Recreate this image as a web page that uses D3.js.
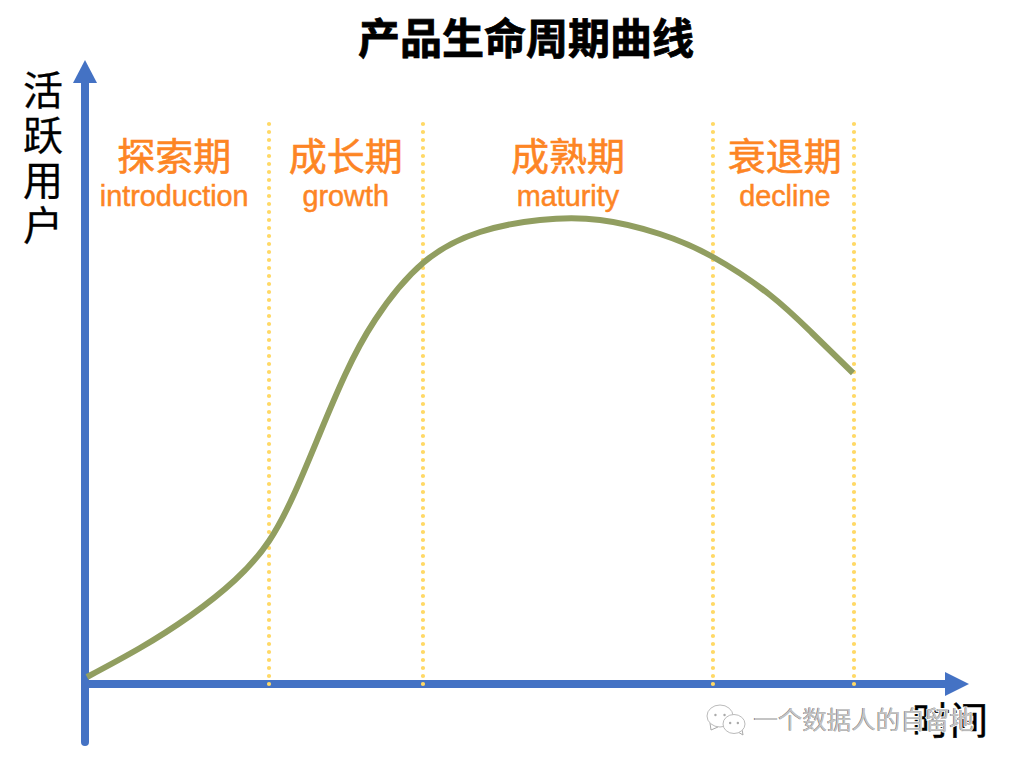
<!DOCTYPE html>
<html><head><meta charset="utf-8">
<script src="https://cdnjs.cloudflare.com/ajax/libs/d3/7.8.5/d3.min.js"></script>
<style>html,body{margin:0;padding:0;background:#fff}svg{display:block}
text{font-family:"Noto Sans CJK SC",sans-serif}</style></head><body>
<svg id="c" width="1010" height="764"></svg>
<script>
const title = "产品生命周期曲线";
const yLabel = ["活","跃","用","户"];
const xLabel = "时间";
const watermark = "一个数据人的自留地";
const phaseCn = ["探索期","成长期","成熟期","衰退期"];
const phaseEn = ["introduction","growth","maturity","decline"];
const phaseCenters = [11.6, 33.9, 62.8, 91];
const boundaries = [23.93, 43.95, 81.66, 100];
const curveX = [0.26,7.15,13.65,19.51,23.93,27.31,30.56,33.81,37.71,43.95,51.37,59.17,66.97,74.77,81.66,89.08,94.54,99.87];
const curveY = [1.4,7.2,13.6,20.8,28.6,38.4,50.2,61.8,72.8,84.2,90.4,92.8,92.8,90,85.4,77.8,70.2,62.2];

const blue="#4472c4", olive="#919e60", orange="#fd8524", gold="#ffd966";
const x=d3.scaleLinear().domain([0,100]).range([85,854]);
const y=d3.scaleLinear().domain([0,100]).range([684,184]);
const svg=d3.select("#c");

// vertical phase boundaries
svg.selectAll("line.b").data(boundaries).join("line").attr("class","b")
  .attr("x1",d=>x(d)).attr("x2",d=>x(d)).attr("y1",124).attr("y2",y(0))
  .attr("stroke",gold).attr("stroke-width",4.2).attr("stroke-linecap","round").attr("stroke-dasharray","0 8");

// axes
svg.append("line").attr("x1",x(0)).attr("x2",x(0)).attr("y1",742).attr("y2",80)
  .attr("stroke",blue).attr("stroke-width",8).attr("stroke-linecap","round");
svg.append("path").attr("d",`M${x(0)-12},83L${x(0)},60L${x(0)+12},83Z`).attr("fill",blue);
svg.append("line").attr("x1",x(0)).attr("x2",948).attr("y1",y(0)).attr("y2",y(0))
  .attr("stroke",blue).attr("stroke-width",8);
svg.append("path").attr("d",`M945,${y(0)-12}L969,${y(0)}L945,${y(0)+12}Z`).attr("fill",blue);
svg.selectAll("circle.b").data(boundaries).join("circle").attr("class","b")
  .attr("cx",d=>x(d)).attr("cy",y(0)).attr("r",2.1).attr("fill",gold);

// curve
const pts=curveX.map((v,i)=>[v,curveY[i]]);
svg.append("path").datum(pts).attr("fill","none").attr("stroke",olive).attr("stroke-width",6)
  .attr("d",d3.line().x(d=>x(d[0])).y(d=>y(d[1])).curve(d3.curveNatural));

// title
svg.append("text").attr("x",526).attr("y",54).attr("text-anchor","middle")
  .attr("font-size",42).attr("font-weight",700).attr("fill","#000")
  .attr("stroke","#000").attr("stroke-width",0.8).text(title);

// y label
svg.append("text").attr("stroke","#000").attr("stroke-width",0.3).attr("font-size",40).attr("fill","#000")
  .attr("text-anchor","middle")
  .selectAll("tspan").data(yLabel).join("tspan")
  .attr("x",43).attr("y",(d,i)=>105+i*45).text(d=>d);

// phases
svg.selectAll("text.cn").data(phaseCn).join("text").attr("class","cn")
  .attr("x",(d,i)=>x(phaseCenters[i])).attr("y",170).attr("text-anchor","middle")
  .attr("font-size",38).attr("fill",orange).attr("stroke",orange).attr("stroke-width",0.6).text(d=>d);
svg.selectAll("text.en").data(phaseEn).join("text").attr("class","en")
  .attr("x",(d,i)=>x(phaseCenters[i])).attr("y",206).attr("text-anchor","middle")
  .style("font-family","'Liberation Sans',Arial,sans-serif")
  .attr("font-size",28.8).attr("fill",orange).attr("stroke",orange).attr("stroke-width",0.5).text(d=>d);

// x label
svg.append("text").attr("x",950).attr("y",734).attr("text-anchor","middle")
  .attr("font-size",38).attr("fill","#000").attr("stroke","#000").attr("stroke-width",0.5).text(xLabel);

// watermark
const wm=svg.append("g");
const bubble=(cx,cy,rx,ry,tail)=>{
  wm.append("path").attr("d",tail).attr("fill","#fff").attr("stroke","#aaa").attr("stroke-width",1);
  wm.append("ellipse").attr("cx",cx).attr("cy",cy).attr("rx",rx).attr("ry",ry)
    .attr("fill","#fff").attr("stroke","#bbb").attr("stroke-width",1);
  wm.append("circle").attr("cx",cx-rx*0.35).attr("cy",cy-1).attr("r",1.2).attr("fill","#aaa");
  wm.append("circle").attr("cx",cx+rx*0.35).attr("cy",cy-1).attr("r",1.2).attr("fill","#aaa");
};
bubble(720,716,13,11,"M710,723L711,730L718,727");
bubble(734,724,11,9.5,"M738,732L743,735L742,729");
wm.append("text").attr("x",753).attr("y",729).attr("font-size",24.5)
  .attr("fill","#666").attr("stroke","#fff").attr("stroke-width",2).attr("paint-order","stroke").text(watermark);
wm.append("text").attr("x",753.5).attr("y",728.7).attr("font-size",24.5)
  .attr("fill","#c4c4c4").text(watermark);
</script></body></html>
